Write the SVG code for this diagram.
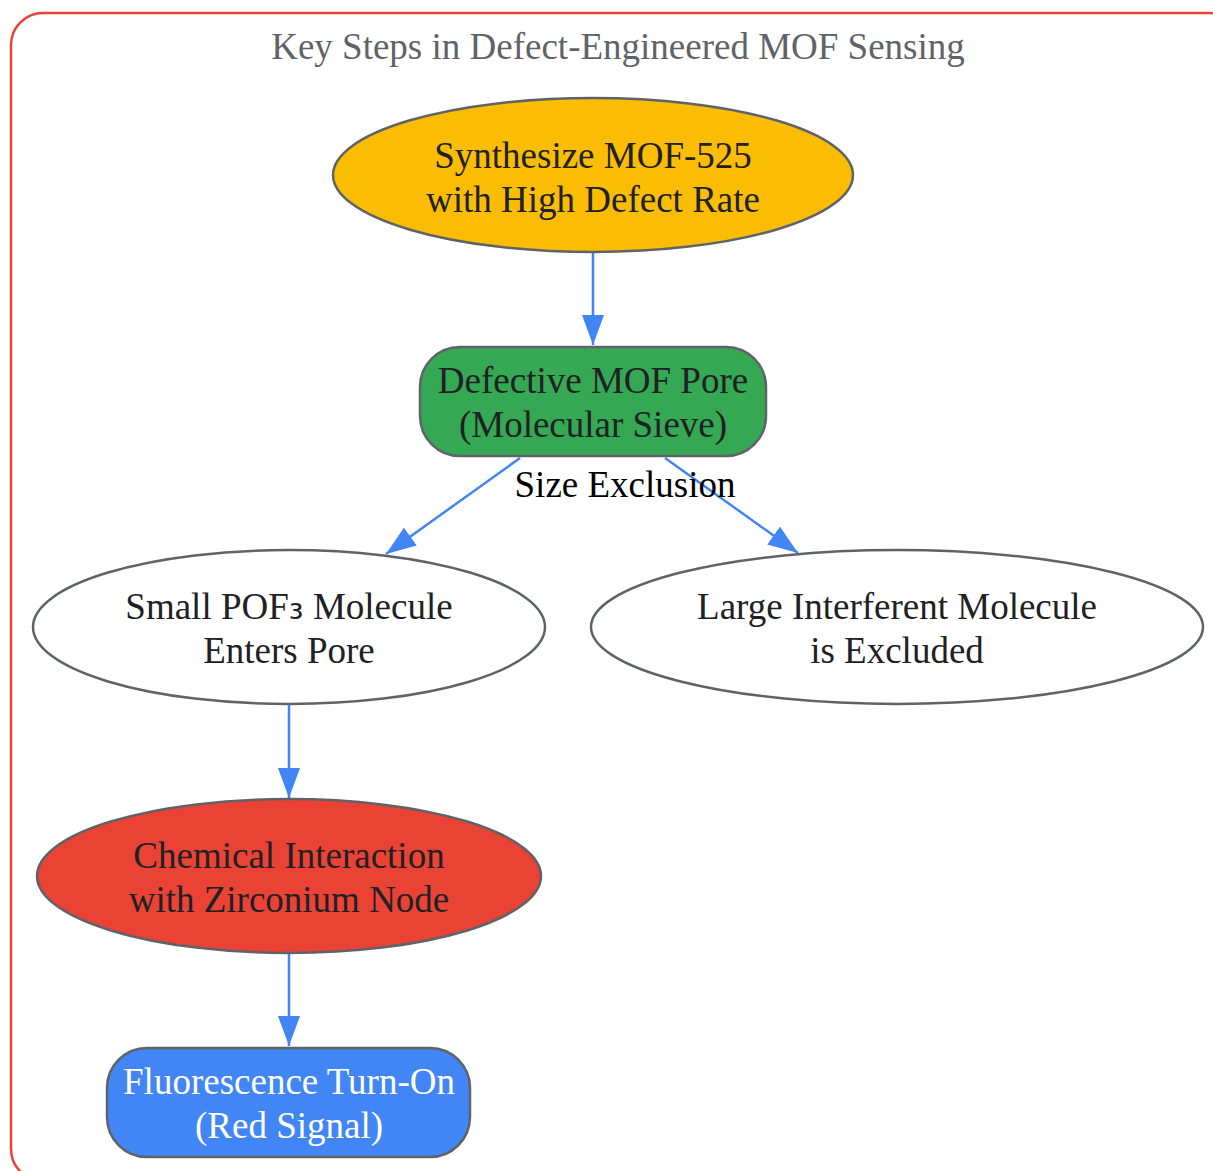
<svg xmlns="http://www.w3.org/2000/svg" width="1213" height="1171" viewBox="0 0 1213 1171">
<defs>
<marker id="ah" viewBox="0 0 30 22" refX="30" refY="11" markerWidth="30" markerHeight="22" markerUnits="userSpaceOnUse" orient="auto">
<path d="M0,0 L30,11 L0,22 Z" fill="#4285F4"/>
</marker>
</defs>
<style>
text{font-family:"Liberation Serif","Times New Roman",serif;font-size:37px;text-anchor:middle;fill:#202124}
.node{stroke:#5f6368;stroke-width:2.5}
.edge{stroke:#4285F4;stroke-width:2.5;fill:none;marker-end:url(#ah)}
.sub{font-family:"DejaVu Sans",sans-serif}
</style>
<rect width="1213" height="1171" fill="#ffffff"/>
<g id="cluster">
<rect x="11" y="13" width="1230" height="1168" rx="32" fill="none" stroke="#EA4335" stroke-width="2.5"/>
<text x="618" y="59" style="fill:#5f6368">Key Steps in Defect-Engineered MOF Sensing</text>
</g>
<g id="connectors">
<path class="edge" d="M593,252 L593,345"/>
<path class="edge" d="M520,458 L386,554"/>
<path class="edge" d="M665,458 L798,553"/>
<path class="edge" d="M289,704 L289,798"/>
<path class="edge" d="M289,953 L289,1046"/>
<text x="625" y="497" style="fill:#000000">Size Exclusion</text>
</g>
<g id="n1">
<ellipse class="node" cx="593" cy="175" rx="260" ry="77" fill="#FBBC04"/>
<text x="593" y="168">Synthesize MOF-525</text>
<text x="593" y="212">with High Defect Rate</text>
</g>
<g id="n2">
<rect class="node" x="420" y="347" width="346" height="109" rx="40" fill="#34A853"/>
<text x="593" y="393">Defective MOF Pore</text>
<text x="593" y="437">(Molecular Sieve)</text>
</g>
<g id="n3">
<ellipse class="node" cx="289" cy="627" rx="256" ry="77" fill="#ffffff"/>
<text x="289" y="619">Small POF<tspan class="sub">₃</tspan> Molecule</text>
<text x="289" y="663">Enters Pore</text>
</g>
<g id="n4">
<ellipse class="node" cx="897" cy="627" rx="306" ry="77" fill="#ffffff"/>
<text x="897" y="619">Large Interferent Molecule</text>
<text x="897" y="663">is Excluded</text>
</g>
<g id="n5">
<ellipse class="node" cx="289" cy="876" rx="252" ry="77" fill="#EA4335"/>
<text x="289" y="868">Chemical Interaction</text>
<text x="289" y="912">with Zirconium Node</text>
</g>
<g id="n6">
<rect class="node" x="107" y="1048" width="363" height="109" rx="40" fill="#4285F4"/>
<text x="289" y="1094" style="fill:#ffffff">Fluorescence Turn-On</text>
<text x="289" y="1138" style="fill:#ffffff">(Red Signal)</text>
</g>
</svg>
